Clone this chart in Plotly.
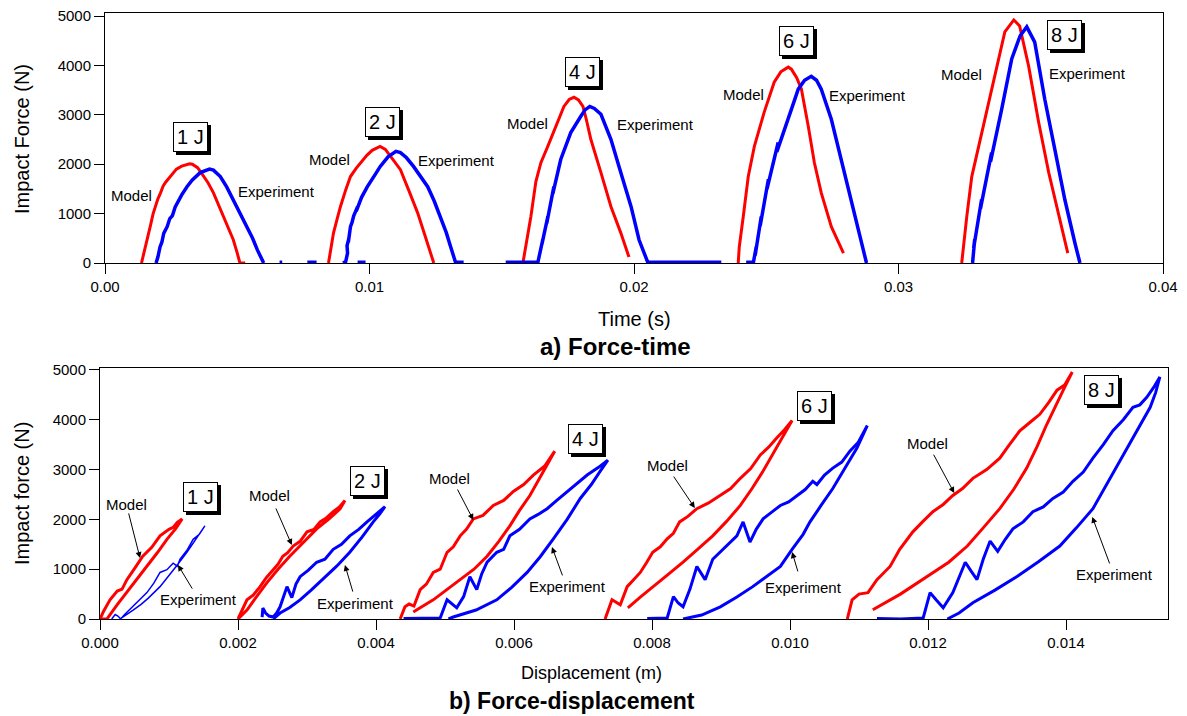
import plotly.graph_objects as go

# ---------------- a) Force-time data ----------------
t_model_1J = [0.00138, 0.0015, 0.0016, 0.00172, 0.00182, 0.0019, 0.0020, 0.0021, 0.0022, 0.0023, 0.00245, 0.00258, 0.0027, 0.0029, 0.0031, 0.0032, 0.0033, 0.0035, 0.0037, 0.0039, 0.0041, 0.0043, 0.0045, 0.00468, 0.00485, 0.0050, 0.0051, 0.0053]
f_model_1J = [0, 250, 480, 760, 1000, 1150, 1300, 1420, 1560, 1640, 1740, 1830, 1900, 1960, 2000, 2010, 2000, 1930, 1780, 1620, 1420, 1170, 900, 680, 470, 200, 0, 0]
t_exp_1J = [0.00193, 0.00200, 0.00208, 0.00215, 0.00222, 0.00235, 0.00245, 0.00255, 0.00265, 0.00273, 0.0029, 0.0031, 0.0033, 0.0036, 0.0038, 0.00395, 0.0041, 0.00436, 0.0046, 0.00485, 0.0051, 0.00538, 0.00558, 0.00576, 0.0060]
f_exp_1J = [0, 120, 325, 420, 600, 735, 900, 960, 1130, 1220, 1380, 1545, 1680, 1830, 1880, 1900, 1880, 1750, 1540, 1280, 1010, 735, 500, 265, 0]

t_model_2J = [0.00845, 0.00855, 0.00864, 0.00878, 0.0089, 0.0091, 0.00928, 0.0095, 0.00966, 0.0099, 0.0101, 0.0103, 0.0104, 0.0106, 0.0108, 0.01117, 0.0115, 0.01182, 0.0121, 0.01243]
f_model_2J = [0, 300, 610, 900, 1140, 1480, 1750, 1920, 2030, 2180, 2280, 2340, 2360, 2300, 2150, 1890, 1450, 1015, 550, 0]
t_exp_2J = [0.0090, 0.0091, 0.00917, 0.00915, 0.00922, 0.0092, 0.00928, 0.00934, 0.0094, 0.00955, 0.0095, 0.0097, 0.00992, 0.0102, 0.0104, 0.0107, 0.0109, 0.0110, 0.01117, 0.0114, 0.01167, 0.0119, 0.0122, 0.01245, 0.01269, 0.0129, 0.01307, 0.01326]
f_exp_2J = [0, 30, 200, 350, 500, 420, 735, 820, 950, 1140, 1050, 1330, 1545, 1780, 1950, 2150, 2235, 2260, 2235, 2130, 1950, 1760, 1545, 1250, 935, 620, 325, 0]

t_model_4J = [0.0158, 0.01591, 0.0161, 0.01629, 0.01648, 0.01674, 0.01712, 0.01735, 0.01755, 0.01773, 0.0179, 0.01807, 0.0182, 0.01837, 0.01875, 0.01913, 0.0195, 0.01981]
f_model_4J = [0, 325, 935, 1650, 2030, 2360, 2845, 3170, 3310, 3355, 3300, 3170, 2900, 2500, 1830, 1140, 610, 120]
t_exp_4J = [0.01636, 0.01645, 0.01642, 0.01655, 0.01652, 0.01674, 0.0167, 0.01697, 0.01693, 0.01723, 0.01761, 0.01799, 0.01815, 0.01833, 0.0185, 0.01875, 0.01913, 0.0195, 0.01989, 0.02019, 0.02053]
f_exp_4J = [0, 250, 100, 470, 380, 935, 800, 1545, 1400, 2095, 2640, 2970, 3100, 3170, 3130, 3010, 2500, 1830, 1140, 470, 0]

t_model_6J = [0.02394, 0.02398, 0.02413, 0.02432, 0.02455, 0.02492, 0.0253, 0.02555, 0.02583, 0.02595, 0.02615, 0.02633, 0.02659, 0.02682, 0.02708, 0.02746, 0.02792]
f_model_6J = [0, 325, 935, 1750, 2360, 3050, 3660, 3870, 3965, 3925, 3750, 3520, 2765, 2030, 1420, 735, 200]
t_exp_6J = [0.02451, 0.02462, 0.02458, 0.02481, 0.02477, 0.02508, 0.02503, 0.02545, 0.0254, 0.02595, 0.02621, 0.02645, 0.0267, 0.0269, 0.02708, 0.02746, 0.02784, 0.02822, 0.0286, 0.02879]
f_exp_6J = [0, 325, 150, 935, 750, 1690, 1500, 2440, 2250, 3110, 3520, 3700, 3780, 3700, 3520, 2910, 2095, 1280, 470, 0]

t_model_8J = [0.03239, 0.03246, 0.03258, 0.03277, 0.03303, 0.03341, 0.03379, 0.03402, 0.03436, 0.03458, 0.03492, 0.0353, 0.03568, 0.03606, 0.0364]
f_model_8J = [0, 405, 935, 1750, 2360, 3250, 4190, 4680, 4920, 4800, 3985, 2845, 1830, 935, 200]
t_exp_8J = [0.0328, 0.03288, 0.03284, 0.03314, 0.0331, 0.03352, 0.03348, 0.0339, 0.03428, 0.0346, 0.03485, 0.03515, 0.03553, 0.03591, 0.03629, 0.03667, 0.03686]
f_exp_8J = [0, 470, 300, 1280, 1100, 2235, 2050, 3110, 4130, 4600, 4780, 4470, 3315, 2300, 1280, 405, 0]

# experiment signal resting at zero between impacts (None = gap)
t_exp_rest = [0.0066, 0.0067, None, 0.00765, 0.0080, None, 0.00955, 0.00985, None, 0.01326, 0.01356, None, 0.01515, 0.01636, None, 0.02053, 0.0233, None, 0.02424, 0.02455]
f_exp_rest = [20, 20, None, 20, 20, None, 20, 20, None, 20, 20, None, 20, 20, None, 20, 20, None, 20, 20]

# ---------------- b) Force-displacement data ----------------
d_model_1J = [0, 0.00005, 0.000145, 0.00025, 0.00032, 0.00039, 0.0005, 0.00062, 0.00075, 0.00087, 0.00100, 0.00106, 0.00112, 0.00119, 0.00110, 0.00097, 0.00083, 0.00068, 0.00053, 0.00039, 0.00025, 0.0001, 0.00002]
p_model_1J = [0, 150, 385, 560, 600, 790, 1010, 1260, 1440, 1670, 1800, 1840, 1940, 2010, 1820, 1600, 1330, 1060, 800, 530, 290, 0, 0]
d_exp_1J = [0.00017, 0.00022, 0.00026, 0.0003, 0.00035, 0.00048, 0.00058, 0.00068, 0.00078, 0.00087, 0.00097, 0.00106, 0.00112, 0.00116, 0.00126, 0.00135, 0.00144, 0.00152, 0.0014, 0.00126, 0.0011, 0.00095, 0.00087, 0.0007, 0.0006, 0.00048, 0.00038, 0.00029]
p_exp_1J = [0, 90, 60, 0, 80, 250, 380, 530, 720, 935, 990, 1120, 1060, 1200, 1380, 1600, 1700, 1870, 1620, 1340, 1050, 790, 650, 420, 300, 180, 80, 0]

d_model_2J = [0.002, 0.00207, 0.00213, 0.00222, 0.00232, 0.00241, 0.00251, 0.00258, 0.00265, 0.00272, 0.0028, 0.0029, 0.003, 0.0031, 0.00319, 0.00328, 0.00338, 0.00347, 0.00355, 0.00348, 0.00332, 0.00314, 0.00295, 0.00275, 0.00258, 0.00242, 0.00228, 0.00213, 0.002]
p_model_2J = [0, 200, 385, 480, 650, 830, 995, 1100, 1260, 1330, 1465, 1560, 1750, 1800, 1950, 2030, 2155, 2250, 2380, 2215, 2010, 1810, 1540, 1260, 1000, 730, 470, 180, 0]
d_exp_2J = [0.00235, 0.00236, 0.0024, 0.00245, 0.00251, 0.00256, 0.00261, 0.00266, 0.00271, 0.00278, 0.00284, 0.0029, 0.00302, 0.00314, 0.00326, 0.00338, 0.0035, 0.00362, 0.00375, 0.00387, 0.004, 0.00413, 0.00405, 0.00396, 0.0038, 0.00362, 0.00343, 0.00323, 0.00306, 0.0029, 0.00275, 0.00261, 0.00251]
p_exp_2J = [40, 220, 120, 60, 40, 120, 245, 450, 650, 430, 700, 850, 980, 1140, 1200, 1400, 1500, 1670, 1800, 1950, 2100, 2255, 2100, 1950, 1650, 1340, 1060, 790, 580, 385, 230, 120, 0]

d_model_4J = [0.00435, 0.00442, 0.00448, 0.00455, 0.00464, 0.00473, 0.00483, 0.00493, 0.00503, 0.00512, 0.00522, 0.00531, 0.00541, 0.00555, 0.0057, 0.00585, 0.00599, 0.00614, 0.00628, 0.00645, 0.00659, 0.00648, 0.00636, 0.00623, 0.00608, 0.00594, 0.00578, 0.00561, 0.00542, 0.00522, 0.00502, 0.00483, 0.00464, 0.00454]
p_model_4J = [0, 245, 300, 260, 590, 700, 935, 1000, 1340, 1450, 1670, 1800, 2010, 2080, 2280, 2380, 2560, 2700, 2890, 3080, 3370, 3090, 2780, 2480, 2180, 1870, 1560, 1260, 1000, 790, 580, 385, 225, 140]
d_exp_4J = [0.0044, 0.00465, 0.00493, 0.00503, 0.0051, 0.00517, 0.00527, 0.00536, 0.00546, 0.00553, 0.00561, 0.00575, 0.00585, 0.00594, 0.00608, 0.00623, 0.00635, 0.00648, 0.00662, 0.00677, 0.00692, 0.00706, 0.00722, 0.00736, 0.00725, 0.00712, 0.00696, 0.00677, 0.00657, 0.00638, 0.00619, 0.00597, 0.00575, 0.00545, 0.00512, 0.00505]
p_exp_4J = [10, 10, 20, 385, 300, 225, 450, 850, 590, 900, 1140, 1340, 1400, 1670, 1800, 2010, 2100, 2215, 2380, 2560, 2720, 2890, 3040, 3190, 2970, 2700, 2420, 2000, 1610, 1250, 935, 640, 385, 180, 40, 0]

d_model_6J = [0.00732, 0.00742, 0.00754, 0.00764, 0.00774, 0.00783, 0.00792, 0.00801, 0.00812, 0.00822, 0.00831, 0.0084, 0.00852, 0.00865, 0.00882, 0.00899, 0.00914, 0.00928, 0.00943, 0.00957, 0.00969, 0.00981, 0.00992, 0.01003, 0.00986, 0.00974, 0.00961, 0.00945, 0.00928, 0.00908, 0.00888, 0.00866, 0.00845, 0.00823, 0.00801, 0.00783, 0.00765]
p_model_6J = [0, 385, 285, 650, 800, 935, 1130, 1340, 1450, 1610, 1720, 1950, 2060, 2215, 2330, 2480, 2620, 2825, 3020, 3295, 3450, 3640, 3800, 3985, 3580, 3280, 2970, 2620, 2280, 1960, 1670, 1400, 1140, 890, 650, 440, 225]
d_exp_6J = [0.00793, 0.00808, 0.00822, 0.00831, 0.00838, 0.00845, 0.00855, 0.00865, 0.00872, 0.00877, 0.00888, 0.00905, 0.00923, 0.00932, 0.00942, 0.00951, 0.00961, 0.00974, 0.00986, 0.00998, 0.0101, 0.01022, 0.01033, 0.01039, 0.0105, 0.01062, 0.01075, 0.01087, 0.01099, 0.01112, 0.01097, 0.0108, 0.01062, 0.01045, 0.01029, 0.01019, 0.01003, 0.00986, 0.00966, 0.00946, 0.00923, 0.00899, 0.00872, 0.00845]
p_exp_6J = [10, 20, 20, 450, 320, 245, 600, 1055, 900, 790, 1200, 1420, 1670, 1950, 1545, 1800, 2010, 2150, 2280, 2350, 2480, 2600, 2765, 2700, 2890, 3030, 3150, 3375, 3550, 3885, 3435, 3030, 2620, 2280, 1950, 1700, 1400, 1055, 850, 650, 440, 245, 80, 0]

d_model_8J = [0.01083, 0.0109, 0.011, 0.01113, 0.01126, 0.01145, 0.01159, 0.01178, 0.01192, 0.01207, 0.01222, 0.01236, 0.0125, 0.01265, 0.01285, 0.01304, 0.01318, 0.01333, 0.01348, 0.01362, 0.01375, 0.01387, 0.01398, 0.01409, 0.01396, 0.01384, 0.01372, 0.01358, 0.01343, 0.01324, 0.01304, 0.0128, 0.01257, 0.0123, 0.01199, 0.0116, 0.0112]
p_model_8J = [0, 385, 500, 530, 790, 1055, 1400, 1750, 1950, 2155, 2300, 2480, 2620, 2825, 3000, 3230, 3500, 3780, 3950, 4110, 4350, 4595, 4700, 4960, 4595, 4250, 3905, 3460, 3030, 2600, 2215, 1830, 1465, 1140, 855, 500, 185]
d_exp_8J = [0.01126, 0.0116, 0.01193, 0.01203, 0.01212, 0.01222, 0.01236, 0.01245, 0.01254, 0.01263, 0.01271, 0.0128, 0.0129, 0.01301, 0.01312, 0.01323, 0.01338, 0.01352, 0.01367, 0.01381, 0.01396, 0.0141, 0.01425, 0.01439, 0.01454, 0.01468, 0.01483, 0.01497, 0.01507, 0.01517, 0.01527, 0.01536, 0.0153, 0.01522, 0.01505, 0.01488, 0.01464, 0.01439, 0.01415, 0.01391, 0.0136, 0.01329, 0.01297, 0.01265, 0.01245, 0.01228]
p_exp_8J = [10, 0, 20, 530, 380, 225, 530, 850, 1140, 950, 790, 1200, 1565, 1360, 1600, 1810, 1950, 2155, 2250, 2420, 2550, 2765, 2950, 3230, 3500, 3780, 4000, 4250, 4300, 4450, 4650, 4860, 4550, 4250, 3830, 3435, 2820, 2215, 1830, 1465, 1150, 855, 580, 325, 120, 0]

# ---------------- labels ----------------
energy_labels = ["1 J", "2 J", "4 J", "6 J", "8 J"]
top_box_x = [0.00322, 0.01049, 0.01807, 0.02614, 0.03629]
top_box_y = [2550, 2854, 3866, 4490, 4615]
top_model_x = [0.00102, 0.00848, 0.01598, 0.02413, 0.03239]
top_model_y = [1376, 2105, 2834, 3420, 3825]
top_exp_x = [0.00648, 0.0133, 0.0208, 0.02883, 0.03716]
top_exp_y = [1457, 2085, 2813, 3400, 3846]

bot_box_x = [0.00146, 0.00388, 0.00704, 0.01036, 0.01451]
bot_box_y = [2450, 2770, 3615, 4275, 4600]
bot_model_x = [0.00039, 0.00246, 0.00507, 0.00822, 0.01199]
bot_model_y = [2290, 2470, 2830, 3090, 3530]
bot_model_tail_x = [0.00041, 0.00254, 0.00517, 0.0083, 0.01207]
bot_model_tail_y = [2150, 2250, 2630, 2890, 3330]
bot_model_tip_x = [0.00058, 0.00278, 0.00541, 0.00862, 0.01238]
bot_model_tip_y = [1225, 1485, 1990, 2230, 2530]
bot_exp_x = [0.00143, 0.00371, 0.00677, 0.01019, 0.0147]
bot_exp_y = [400, 320, 660, 640, 885]
bot_exp_tail_x = [0.00135, 0.00367, 0.00671, 0.01012, 0.01464]
bot_exp_tail_y = [580, 520, 845, 925, 1085]
bot_exp_tip_x = [0.00113, 0.00355, 0.00655, 0.01003, 0.01438]
bot_exp_tip_y = [1085, 1085, 1445, 1345, 2050]

RED = "#ff0000"
BLUE = "#0000ff"
FONT = "Liberation Sans, Arial, sans-serif"
OFF = 8  # page body margin in the browser
W, H = 1187 - OFF, 716 - OFF


def px_x(px):
    return (px - OFF) / W


def px_y(py):
    return 1 - (py - OFF) / H


fig = go.Figure()

top_model = [(t_model_1J, f_model_1J), (t_model_2J, f_model_2J), (t_model_4J, f_model_4J), (t_model_6J, f_model_6J), (t_model_8J, f_model_8J)]
top_exp = [(t_exp_1J, f_exp_1J), (t_exp_2J, f_exp_2J), (t_exp_4J, f_exp_4J), (t_exp_6J, f_exp_6J), (t_exp_8J, f_exp_8J)]
for tx, fy in top_model:
    fig.add_trace(go.Scatter(x=tx, y=fy, mode="lines", line=dict(color=RED, width=3), xaxis="x", yaxis="y", showlegend=False))
fig.add_trace(go.Scatter(x=t_exp_rest, y=f_exp_rest, mode="lines", line=dict(color=BLUE, width=3), xaxis="x", yaxis="y", showlegend=False, connectgaps=False))
for tx, fy in top_exp:
    fig.add_trace(go.Scatter(x=tx, y=fy, mode="lines", line=dict(color=BLUE, width=3.5), xaxis="x", yaxis="y", showlegend=False))

bot_model = [(d_model_1J, p_model_1J), (d_model_2J, p_model_2J), (d_model_4J, p_model_4J), (d_model_6J, p_model_6J), (d_model_8J, p_model_8J)]
bot_exp = [(d_exp_1J, p_exp_1J), (d_exp_2J, p_exp_2J), (d_exp_4J, p_exp_4J), (d_exp_6J, p_exp_6J), (d_exp_8J, p_exp_8J)]
for dx, py in bot_model:
    fig.add_trace(go.Scatter(x=dx, y=py, mode="lines", line=dict(color=RED, width=3), xaxis="x2", yaxis="y2", showlegend=False))
for i, (dx, py) in enumerate(bot_exp):
    fig.add_trace(go.Scatter(x=dx, y=py, mode="lines", line=dict(color=BLUE, width=1.5 if i == 0 else 3), xaxis="x2", yaxis="y2", showlegend=False))

ann = []


def box(x, y, text, xr, yr):
    ann.append(dict(x=x, y=y, xref=xr, yref=yr, text=text, showarrow=False, xshift=3, yshift=-3,
                    font=dict(family=FONT, size=20, color="black"), bgcolor="black",
                    bordercolor="black", borderwidth=1, borderpad=3))
    ann.append(dict(x=x, y=y, xref=xr, yref=yr, text=text, showarrow=False,
                    font=dict(family=FONT, size=20, color="black"), bgcolor="white",
                    bordercolor="black", borderwidth=1, borderpad=3))


def label(x, y, text, xr, yr):
    ann.append(dict(x=x, y=y, xref=xr, yref=yr, text=text, showarrow=False,
                    font=dict(family=FONT, size=15, color="black")))


for i, lab in enumerate(energy_labels):
    box(top_box_x[i], top_box_y[i], lab, "x", "y")
    label(top_model_x[i], top_model_y[i], "Model", "x", "y")
    label(top_exp_x[i], top_exp_y[i], "Experiment", "x", "y")
    box(bot_box_x[i], bot_box_y[i], lab, "x2", "y2")
    label(bot_model_x[i], bot_model_y[i], "Model", "x2", "y2")
    label(bot_exp_x[i], bot_exp_y[i], "Experiment", "x2", "y2")
    ann.append(dict(x=bot_model_tip_x[i], y=bot_model_tip_y[i], ax=bot_model_tail_x[i], ay=bot_model_tail_y[i],
                    xref="x2", yref="y2", axref="x2", ayref="y2", text="", showarrow=True,
                    arrowhead=2, arrowsize=1.2, arrowwidth=1, arrowcolor="black"))
    ann.append(dict(x=bot_exp_tip_x[i], y=bot_exp_tip_y[i], ax=bot_exp_tail_x[i], ay=bot_exp_tail_y[i],
                    xref="x2", yref="y2", axref="x2", ayref="y2", text="", showarrow=True,
                    arrowhead=2, arrowsize=1.2, arrowwidth=1, arrowcolor="black"))


def ptxt(px, py, text, size, bold=False, angle=0):
    ann.append(dict(x=px_x(px), y=px_y(py), xref="paper", yref="paper", text=("<b>%s</b>" % text) if bold else text,
                    showarrow=False, textangle=angle, xanchor="center", yanchor="middle",
                    font=dict(family=FONT, size=size, color="black")))


ptxt(22, 139, "Impact Force (N)", 20, angle=-90)
ptxt(634, 319, "Time (s)", 20)
ptxt(615, 346, "a) Force-time", 24, bold=True)
ptxt(22, 494, "Impact force (N)", 20, angle=-90)
ptxt(591, 673, "Displacement (m)", 18)
ptxt(572, 701, "b) Force-displacement", 23, bold=True)

axis_common = dict(showline=True, linecolor="black", linewidth=1, mirror=True, ticks="outside", ticklen=10,
                   tickcolor="black", tickwidth=1, showgrid=False, zeroline=False, layer="below traces",
                   automargin=False, ticklabeloverflow="allow",
                   tickfont=dict(family=FONT, size=15, color="black"))

fig.update_layout(
    width=W, height=H,
    margin=dict(l=0, r=0, t=0, b=0, pad=0, autoexpand=False),
    paper_bgcolor="white", plot_bgcolor="white",
    showlegend=False,
    xaxis=dict(domain=[px_x(105), px_x(1163)], range=[0, 0.04], dtick=0.01, tickformat=".2f", anchor="y", **axis_common),
    yaxis=dict(domain=[px_y(263), px_y(12.7)], range=[0, 5067], dtick=1000, tickformat="d", anchor="x", **axis_common),
    xaxis2=dict(domain=[px_x(100), px_x(1168)], range=[0, 0.015478], dtick=0.002, tickformat=".3f", anchor="y2", **axis_common),
    yaxis2=dict(domain=[px_y(619), px_y(367.7)], range=[0, 5046], dtick=1000, tickformat="d", anchor="x2", **axis_common),
    annotations=ann,
)

fig.write_html("out.html")
